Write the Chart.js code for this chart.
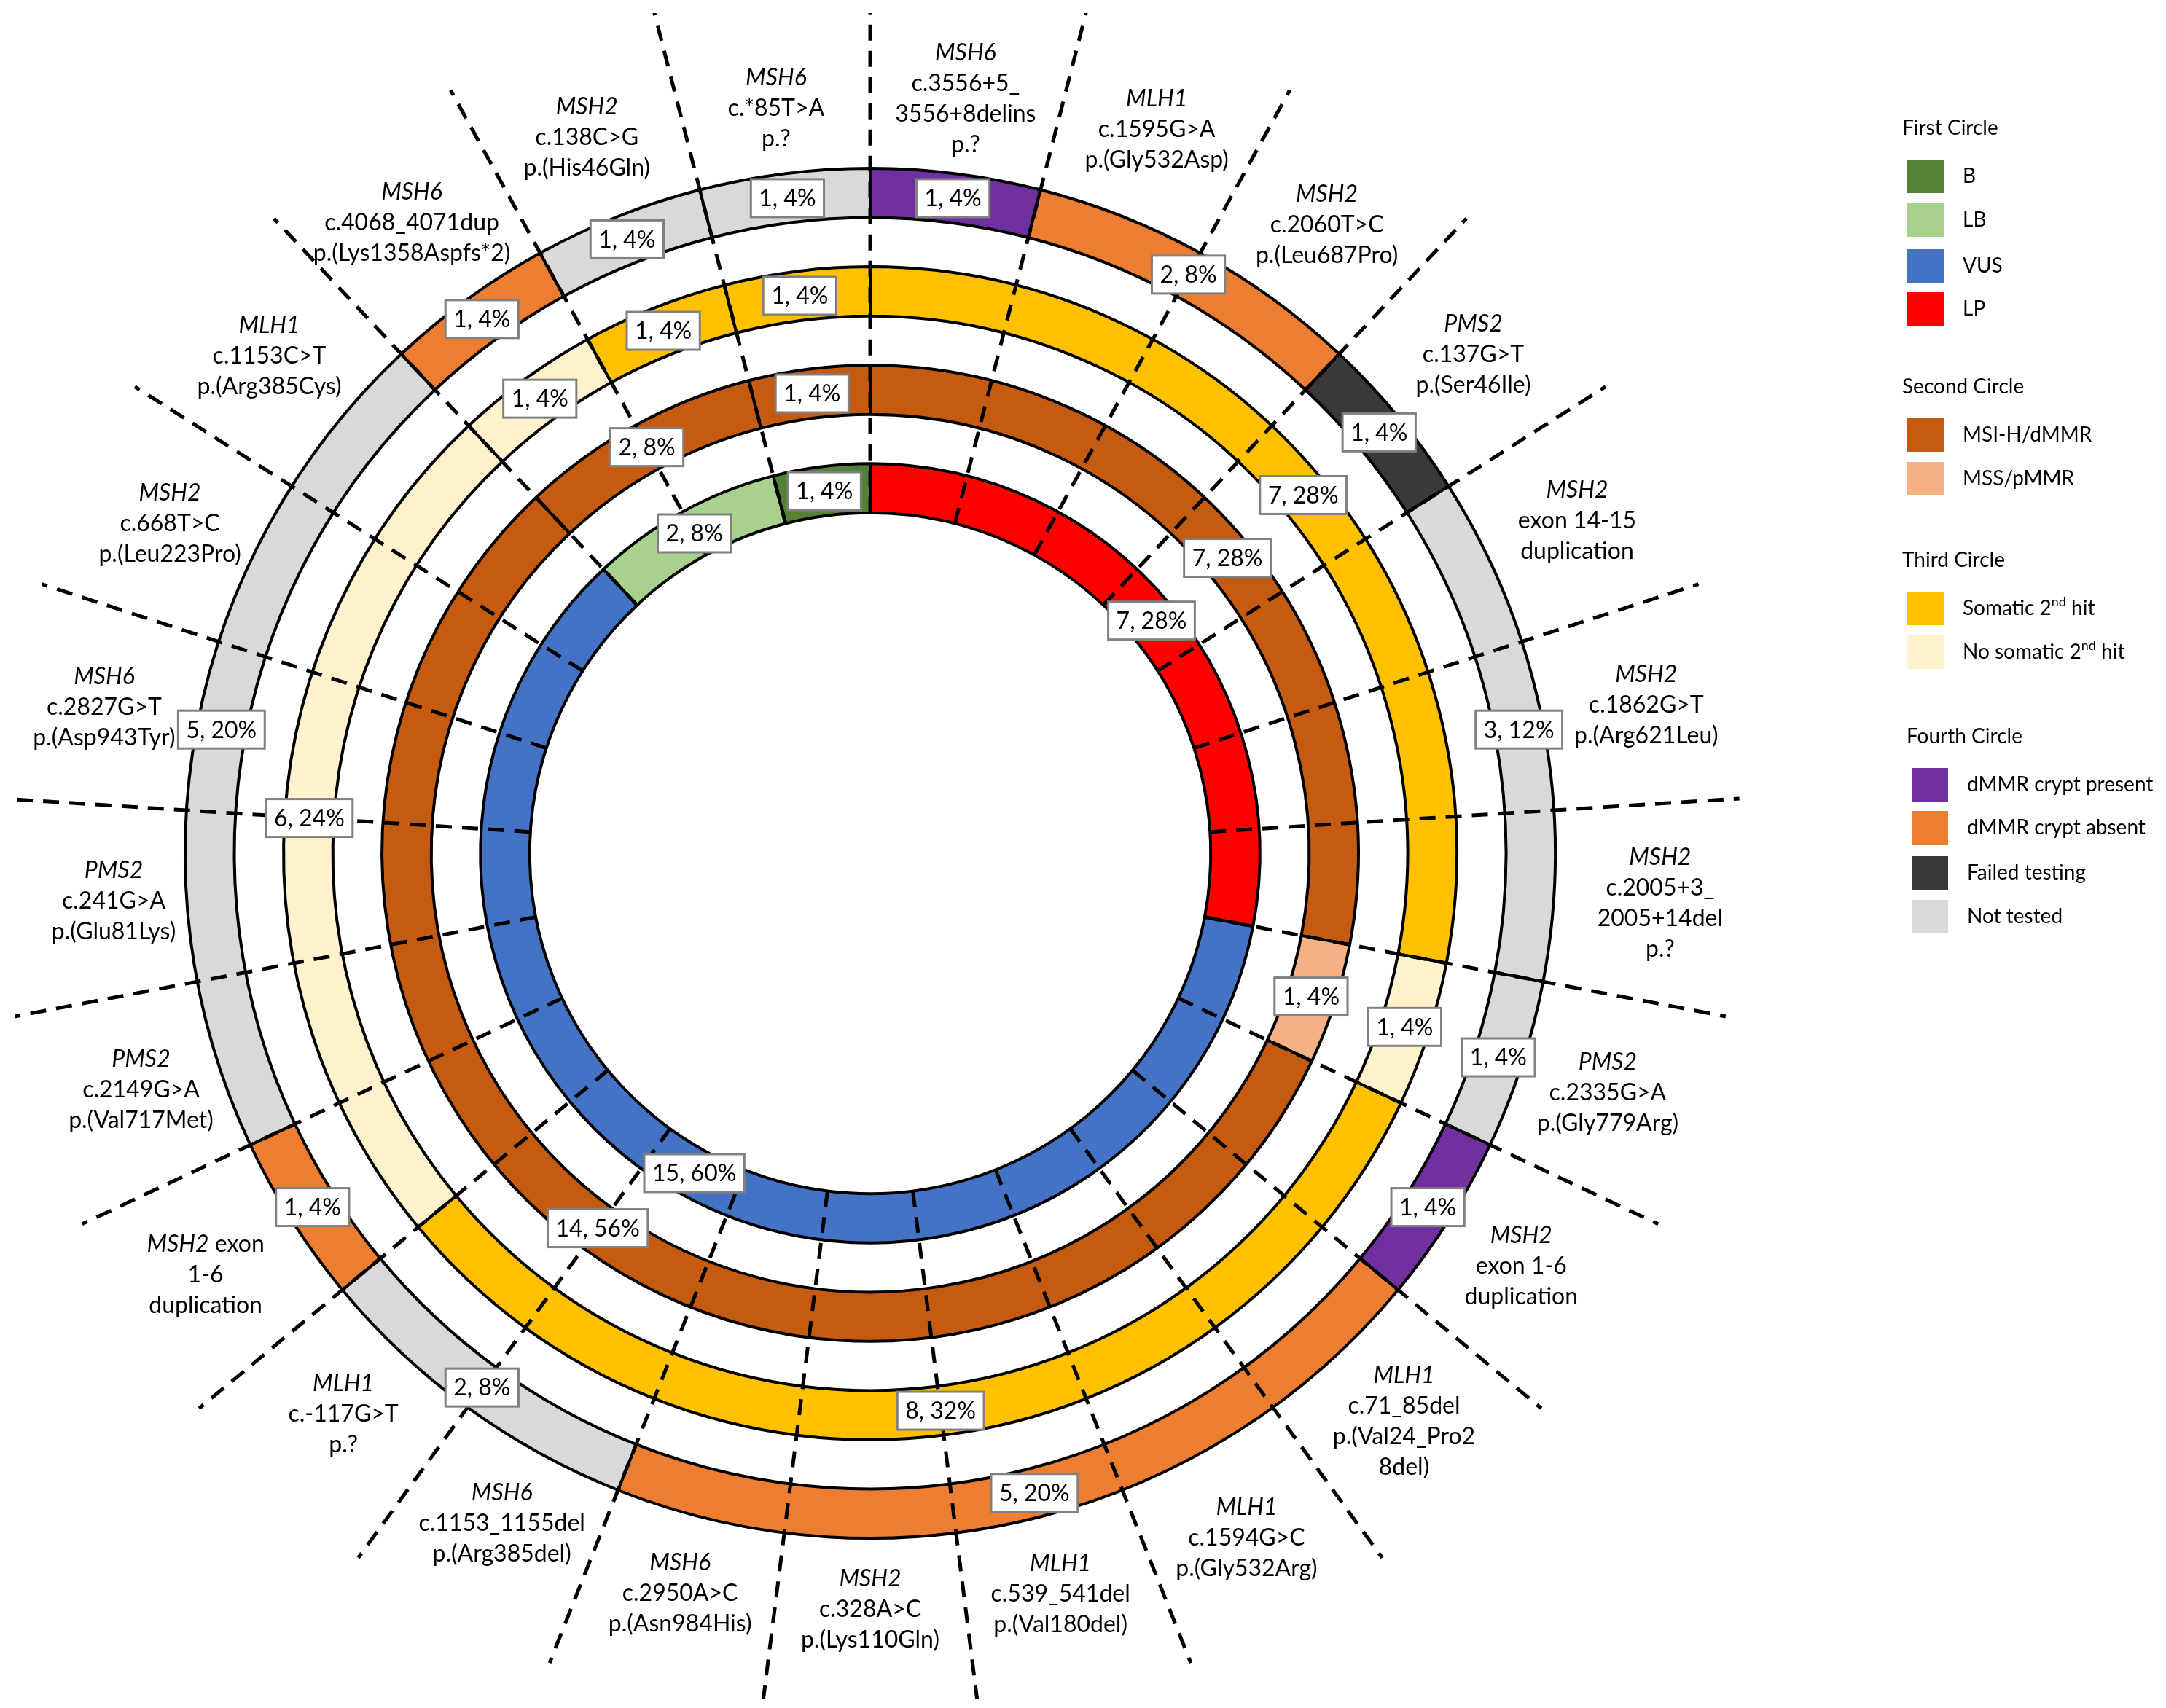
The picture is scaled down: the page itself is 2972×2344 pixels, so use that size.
<!DOCTYPE html>
<html>
<head>
<meta charset="utf-8">
<script src="https://cdn.jsdelivr.net/npm/chart.js@4.4.1/dist/chart.umd.min.js"></script>
<style>
  html, body { margin: 0; padding: 0; background: #fff; }
  #wrap { width: 2972px; height: 2344px; }
</style>
</head>
<body>
<div id="wrap"><canvas id="mmr-circles" width="2972" height="2344"></canvas></div>
<script>
// 25 patients, segments run clockwise from 12 o'clock
const TOTAL_PATIENTS = 25;

// first (inner) circle: variant classification
const firstCircleCounts = [7, 15, 2, 1];
const firstCircleClasses = ["LP", "VUS", "LB", "B"];

// second circle: MSI / MMR status
const secondCircleCounts = [7, 1, 14, 2, 1];
const secondCircleClasses = ["MSI-H/dMMR", "MSS/pMMR", "MSI-H/dMMR", "MSI-H/dMMR", "MSI-H/dMMR"];

// third circle: somatic second hit
const thirdCircleCounts = [7, 1, 8, 6, 1, 1, 1];
const thirdCircleClasses = ["Somatic", "NoSomatic", "Somatic", "NoSomatic", "NoSomatic", "Somatic", "Somatic"];

// fourth (outer) circle: dMMR crypts
const fourthCircleCounts = [1, 2, 1, 3, 1, 1, 5, 2, 1, 5, 1, 1, 1];
const fourthCircleClasses = ["Present", "Absent", "Failed", "NotTested", "NotTested", "Present", "Absent",
  "NotTested", "Absent", "NotTested", "Absent", "NotTested", "NotTested"];

// one label per patient, first word of first line is the gene (italic)
const patientLabels = [
  ["MSH6", "c.3556+5_", "3556+8delins", "p.?"],
  ["MLH1", "c.1595G>A", "p.(Gly532Asp)"],
  ["MSH2", "c.2060T>C", "p.(Leu687Pro)"],
  ["PMS2", "c.137G>T", "p.(Ser46Ile)"],
  ["MSH2", "exon 14-15", "duplication"],
  ["MSH2", "c.1862G>T", "p.(Arg621Leu)"],
  ["MSH2", "c.2005+3_", "2005+14del", "p.?"],
  ["PMS2", "c.2335G>A", "p.(Gly779Arg)"],
  ["MSH2", "exon 1-6", "duplication"],
  ["MLH1", "c.71_85del", "p.(Val24_Pro2", "8del)"],
  ["MLH1", "c.1594G>C", "p.(Gly532Arg)"],
  ["MLH1", "c.539_541del", "p.(Val180del)"],
  ["MSH2", "c.328A>C", "p.(Lys110Gln)"],
  ["MSH6", "c.2950A>C", "p.(Asn984His)"],
  ["MSH6", "c.1153_1155del", "p.(Arg385del)"],
  ["MLH1", "c.-117G>T", "p.?"],
  ["MSH2 exon", "1-6", "duplication"],
  ["PMS2", "c.2149G>A", "p.(Val717Met)"],
  ["PMS2", "c.241G>A", "p.(Glu81Lys)"],
  ["MSH6", "c.2827G>T", "p.(Asp943Tyr)"],
  ["MSH2", "c.668T>C", "p.(Leu223Pro)"],
  ["MLH1", "c.1153C>T", "p.(Arg385Cys)"],
  ["MSH6", "c.4068_4071dup", "p.(Lys1358Aspfs*2)"],
  ["MSH2", "c.138C>G", "p.(His46Gln)"],
  ["MSH6", "c.*85T>A", "p.?"],
];

// legend
const legendTitles = ["First Circle", "Second Circle", "Third Circle", "Fourth Circle"];
const legendKeys = [
  ["B", "LB", "VUS", "LP"],
  ["MSI-H/dMMR", "MSS/pMMR"],
  ["Somatic", "NoSomatic"],
  ["Present", "Absent", "Failed", "NotTested"],
];
const legendTexts = {
  B: "B", LB: "LB", VUS: "VUS", LP: "LP",
  "MSI-H/dMMR": "MSI-H/dMMR", "MSS/pMMR": "MSS/pMMR",
  Somatic: ["Somatic 2", "nd", " hit"], NoSomatic: ["No somatic 2", "nd", " hit"],
  Present: "dMMR crypt present", Absent: "dMMR crypt absent", Failed: "Failed testing", NotTested: "Not tested",
};

const COLORS = {
  B: "#548235", LB: "#A9D18E", VUS: "#4472C4", LP: "#FF0000",
  "MSI-H/dMMR": "#C55A11", "MSS/pMMR": "#F4B183",
  Somatic: "#FFC000", NoSomatic: "#FFF2CC",
  Present: "#7030A0", Absent: "#ED7D31", Failed: "#3A3838", NotTested: "#D9D9D9",
};

const FONT = "Lato, 'Open Sans', sans-serif";

// small radial nudges (px) so the hand-placed labels sit like the original
const labelNudge = [-16, 8, 6, 14, 12, 24, 26, 4, -2, 10, 12, -10, -22, -11, -11, -4, 20, -8, -20, 10, 2, 10, 10, -4, -30];

const ringDataset = (counts, classes) => ({
  data: counts,
  backgroundColor: classes.map((c) => COLORS[c]),
  borderColor: "#000",
  borderWidth: 4,
  weight: 1,
});

const gapDataset = () => ({
  data: [TOTAL_PATIENTS],
  backgroundColor: "rgba(0,0,0,0)",
  borderWidth: 0,
  weight: 1,
});

const RING_INDEXES = [0, 2, 4, 6];

// dividers, count boxes, patient labels and legend
const overlayPlugin = {
  id: "overlay",
  afterDatasetsDraw(chart) {
    const ctx = chart.ctx;
    const innerArc = chart.getDatasetMeta(6).data[0];
    const outerArc = chart.getDatasetMeta(0).data[0];
    const cx = innerArc.x;
    const cy = innerArc.y;
    const r0 = innerArc.innerRadius;
    const rOuter = outerArc.outerRadius;

    // dashed patient dividers
    ctx.save();
    ctx.beginPath();
    ctx.rect(20, 18, chart.width - 40, chart.height - 30);
    ctx.clip();
    ctx.setLineDash([22, 14]);
    ctx.lineWidth = 5;
    ctx.strokeStyle = "#000";
    for (let k = 0; k < TOTAL_PATIENTS; k++) {
      const a = -Math.PI / 2 + (k * 2 * Math.PI) / TOTAL_PATIENTS;
      ctx.beginPath();
      ctx.moveTo(cx + r0 * Math.cos(a), cy + r0 * Math.sin(a));
      ctx.lineTo(cx + 1195 * Math.cos(a), cy + 1195 * Math.sin(a));
      ctx.stroke();
    }
    ctx.restore();

    // "n, %" boxes
    ctx.save();
    ctx.font = "32px " + FONT;
    ctx.textAlign = "center";
    ctx.textBaseline = "middle";
    RING_INDEXES.forEach((di) => {
      const meta = chart.getDatasetMeta(di);
      const counts = chart.data.datasets[di].data;
      meta.data.forEach((arc, i) => {
        const p = arc.getCenterPoint();
        const txt = counts[i] + ", " + Math.round((counts[i] / TOTAL_PATIENTS) * 100) + "%";
        const w = ctx.measureText(txt).width + 22;
        const h = 52;
        ctx.fillStyle = "#fff";
        ctx.fillRect(p.x - w / 2, p.y - h / 2, w, h);
        ctx.lineWidth = 3;
        ctx.strokeStyle = "#808080";
        ctx.strokeRect(p.x - w / 2, p.y - h / 2, w, h);
        ctx.fillStyle = "#000";
        ctx.fillText(txt, p.x, p.y + 1);
      });
    });
    ctx.restore();

    // patient labels
    ctx.save();
    ctx.textBaseline = "middle";
    ctx.textAlign = "left";
    ctx.fillStyle = "#000";
    const lineH = 42;
    patientLabels.forEach((lines, k) => {
      const a = -Math.PI / 2 + ((k + 0.5) * 2 * Math.PI) / TOTAL_PATIENTS;
      const labelR = rOuter + 120 + labelNudge[k];
      const lx = cx + labelR * Math.cos(a);
      const ly = cy + labelR * Math.sin(a);
      const top = ly - ((lines.length - 1) * lineH) / 2;
      lines.forEach((line, j) => {
        const y = top + j * lineH;
        if (j === 0) {
          const sp = line.indexOf(" ");
          const gene = sp < 0 ? line : line.slice(0, sp);
          const rest = sp < 0 ? "" : line.slice(sp);
          ctx.font = "italic 32px " + FONT;
          const gw = ctx.measureText(gene).width;
          ctx.font = "32px " + FONT;
          const rw = ctx.measureText(rest).width;
          const x = lx - (gw + rw) / 2;
          ctx.font = "italic 32px " + FONT;
          ctx.fillText(gene, x, y);
          ctx.font = "32px " + FONT;
          ctx.fillText(rest, x + gw, y);
        } else {
          ctx.font = "32px " + FONT;
          const w = ctx.measureText(line).width;
          ctx.fillText(line, lx - w / 2, y);
        }
      });
    });
    ctx.restore();

    // legend
    ctx.save();
    ctx.textBaseline = "middle";
    ctx.textAlign = "left";
    const titleY = [176, 531, 769, 1011];
    const itemY = [[242, 302, 365, 424], [597, 657], [835, 895], [1077, 1136, 1198, 1258]];
    legendTitles.forEach((title, g) => {
      const shift = g === 3 ? 6 : 0;
      ctx.font = "28px " + FONT;
      ctx.fillStyle = "#000";
      ctx.fillText(title, 2610 + shift, titleY[g]);
      legendKeys[g].forEach((key, i) => {
        const y = itemY[g][i];
        ctx.fillStyle = COLORS[key];
        ctx.fillRect(2617 + shift, y - 23, 50, 46);
        ctx.fillStyle = "#000";
        const t = legendTexts[key];
        let x = 2693 + shift;
        if (Array.isArray(t)) {
          ctx.font = "28px " + FONT;
          ctx.fillText(t[0], x, y);
          x += ctx.measureText(t[0]).width;
          ctx.font = "18px " + FONT;
          ctx.fillText(t[1], x, y - 9);
          x += ctx.measureText(t[1]).width;
          ctx.font = "28px " + FONT;
          ctx.fillText(t[2], x, y);
        } else {
          ctx.font = "28px " + FONT;
          ctx.fillText(t, x, y);
        }
      });
    });
    ctx.restore();
  },
};

const setupCirclesChart = () => {
  try {
    const data = {
      labels: fourthCircleClasses,
      datasets: [
        ringDataset(fourthCircleCounts, fourthCircleClasses),
        gapDataset(),
        ringDataset(thirdCircleCounts, thirdCircleClasses),
        gapDataset(),
        ringDataset(secondCircleCounts, secondCircleClasses),
        gapDataset(),
        ringDataset(firstCircleCounts, firstCircleClasses),
      ],
    };

    const config = {
      type: "doughnut",
      data,
      options: {
        responsive: false,
        devicePixelRatio: 1,
        animation: false,
        events: [],
        radius: 940,
        cutout: "49.7%",
        layout: { padding: { left: 254, top: 231, right: 838, bottom: 233 } },
        plugins: {
          legend: { display: false },
          tooltip: { enabled: false },
        },
      },
      plugins: [overlayPlugin],
    };

    new Chart(document.getElementById("mmr-circles"), config);
  } catch (e) {
    console.error(e);
  }
};

setupCirclesChart();
</script>
</body>
</html>
